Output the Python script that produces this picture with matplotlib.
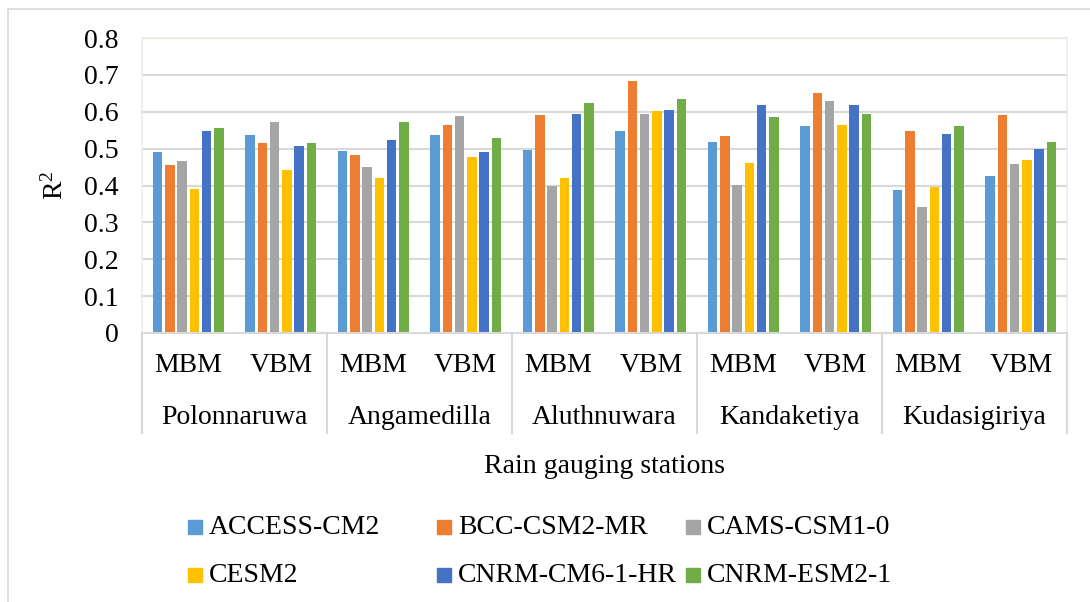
import numpy as np
import matplotlib
matplotlib.use('Agg')
import matplotlib.pyplot as plt
from matplotlib.patches import Rectangle
from matplotlib.lines import Line2D

# R2 of bias-corrected GCM rainfall per station / correction method
stations = ['Polonnaruwa', 'Angamedilla', 'Aluthnuwara', 'Kandaketiya', 'Kudasigiriya']
methods = ['MBM', 'VBM']
models = ['ACCESS-CM2', 'BCC-CSM2-MR', 'CAMS-CSM1-0', 'CESM2', 'CNRM-CM6-1-HR', 'CNRM-ESM2-1']
colors = ['#5B9BD5', '#ED7D31', '#A5A5A5', '#FFC000', '#4472C4', '#70AD47']

# one list per model, ordered station by station (MBM, VBM)
access_cm2    = [0.492, 0.536, 0.494, 0.536, 0.496, 0.548, 0.518, 0.562, 0.387, 0.426]
bcc_csm2_mr   = [0.456, 0.516, 0.483, 0.564, 0.592, 0.683, 0.535, 0.652, 0.547, 0.590]
cams_csm1_0   = [0.467, 0.572, 0.449, 0.588, 0.400, 0.595, 0.402, 0.630, 0.342, 0.458]
cesm2         = [0.391, 0.443, 0.421, 0.476, 0.421, 0.601, 0.462, 0.564, 0.397, 0.470]
cnrm_cm6_1_hr = [0.547, 0.508, 0.524, 0.492, 0.595, 0.605, 0.618, 0.618, 0.539, 0.500]
cnrm_esm2_1   = [0.556, 0.514, 0.573, 0.529, 0.625, 0.634, 0.586, 0.593, 0.560, 0.518]
series = [access_cm2, bcc_csm2_mr, cams_csm1_0, cesm2, cnrm_cm6_1_hr, cnrm_esm2_1]

W, H = 1090, 602
FS = 20
plt.rcParams['font.family'] = ['Liberation Serif', 'DejaVu Serif']
plt.rcParams['mathtext.fontset'] = 'custom'
plt.rcParams['mathtext.rm'] = 'Liberation Serif'
plt.rcParams['mathtext.it'] = 'Liberation Serif'
fig = plt.figure(figsize=(W / 100, H / 100), dpi=100)

def fx(x):
    return x / W

def fy(y):
    return 1 - y / H

# outer chart frame
fig.add_artist(Rectangle((fx(8), fy(640)), fx(1100), fy(9) - fy(640), transform=fig.transFigure,
                         fill=False, edgecolor='#D9D9D9', linewidth=1.2))

left, right, top, bottom = 142, 1067, 38, 333
ax = fig.add_axes([fx(left), fy(bottom), fx(right - left), (bottom - top) / H])

n_cat = len(stations) * len(methods)
x = np.arange(n_cat)
pitch = 0.133
bw = 0.103
for j, (vals, c) in enumerate(zip(series, colors)):
    ax.bar(x + (j - 2.5) * pitch, vals, width=bw, color=c, zorder=3)

ax.set_xlim(-0.5, n_cat - 0.5)
ax.set_ylim(0, 0.8)
ax.set_yticks(np.arange(0, 0.81, 0.1))
ax.set_yticklabels(['0'] + ['%.1f' % v for v in np.arange(0.1, 0.81, 0.1)])
ax.tick_params(axis='y', length=0, pad=17, labelsize=FS)
ax.set_xticks([])
ax.grid(axis='y', color='#D9D9D9', linewidth=1.5, zorder=0)

for side in ['top', 'right', 'left']:
    ax.spines[side].set_color('#EEEBE3')
    ax.spines[side].set_linewidth(1.2)
ax.spines['bottom'].set_color('#D9D9D9')
ax.spines['bottom'].set_linewidth(1.5)
ax.spines['bottom'].set_zorder(4)

ax.text((55 - left) / (right - left), 0.5, r'R$^{2}$', rotation=90,
        transform=ax.transAxes, ha='center', va='center', fontsize=FS)

# two-level category axis
tr = ax.get_xaxis_transform()
for i in range(n_cat):
    ax.text(i, -0.1085, methods[i % 2], transform=tr, ha='center', va='center', fontsize=FS)
for k, name in enumerate(stations):
    ax.text(2 * k + 0.5, -0.285, name, transform=tr, ha='center', va='center', fontsize=FS)
for b in np.arange(-0.5, n_cat, 2):
    ax.add_line(Line2D([b, b], [0, -0.339], transform=tr, color='#D9D9D9',
                       linewidth=1.5, clip_on=False))

ax.text(0.5, -0.451, 'Rain gauging stations', transform=ax.transAxes,
        ha='center', va='center', fontsize=FS)

# legend, three columns by two rows
leg_x = [188, 437, 686]
leg_y = [527, 575]
for j, (name, c) in enumerate(zip(models, colors)):
    mx = leg_x[j % 3]
    my = leg_y[j // 3]
    fig.add_artist(Rectangle((fx(mx), fy(my + 7)), fx(14), 14 / H,
                             transform=fig.transFigure, color=c))
    fig.text(fx(mx + 21), fy(my), name, ha='left', va='center', fontsize=FS)

fig.savefig('out.png', dpi=100)
